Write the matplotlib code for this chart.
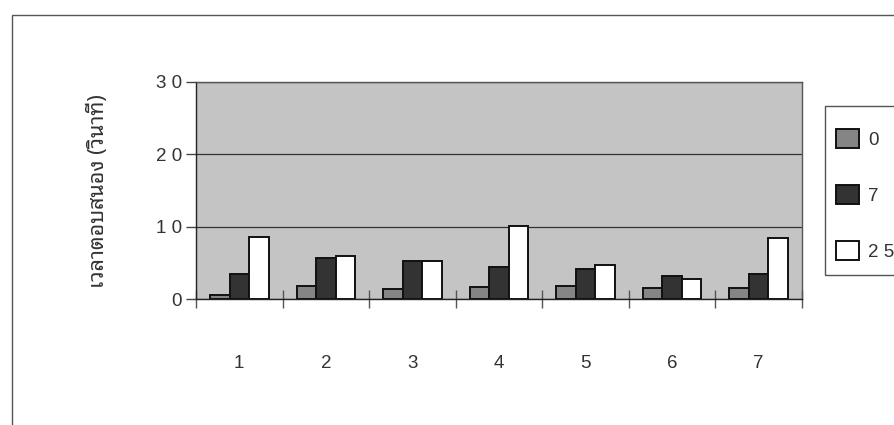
import matplotlib
matplotlib.use("Agg")
import numpy as np
import matplotlib.pyplot as plt
from matplotlib.patches import Rectangle

# response time per test case, one list per series
categories = ["1", "2", "3", "4", "5", "6", "7"]
series_names = ["0", "7", "2 5"]
s0 = [0.6, 1.8, 1.4, 1.7, 1.8, 1.5, 1.5]
s7 = [3.5, 5.6, 5.2, 4.4, 4.2, 3.2, 3.4]
s25 = [8.6, 6.0, 5.2, 10.1, 4.7, 2.8, 8.5]
y_ticks = [0, 10, 20, 30]
y_tick_labels = ["0", "1 0", "2 0", "3 0"]
y_label = "เวลาตอบสนอง (วินาที)"

plt.rcParams["font.family"] = ["Liberation Sans", "DejaVu Sans"]
plt.rcParams["font.size"] = 13.5
text_color = "#333333"
frame_color = "#555555"

fig = plt.figure(figsize=(8.95, 4.25), dpi=100)
ax = fig.add_axes([196 / 895, 1 - 299 / 425, 606 / 895, 217 / 425])

# outer chart frame, running off the right and bottom edges
fig.patches.append(Rectangle((12 / 895, -0.2), 1.2, 1.2 - 15 / 425,
                             transform=fig.transFigure, fill=False,
                             edgecolor=frame_color, linewidth=1.0))

ax.set_facecolor("#c4c4c4")
x = np.arange(len(categories))
w = 0.225
colors = ["#858585", "#333333", "#ffffff"]
bars = []
for i, (vals, c) in enumerate(zip([s0, s7, s25], colors)):
    b = ax.bar(x + (i - 1) * w, vals, w, color=c, edgecolor="#111111",
               linewidth=1.4, zorder=3, label=series_names[i])
    bars.append(b)

ax.set_xlim(-0.5, len(categories) - 0.5)
ax.set_ylim(0, 30)
ax.set_yticks(y_ticks)
ax.set_yticklabels(y_tick_labels, color=text_color)
ax.tick_params(axis="y", direction="out", length=7, width=1, pad=3,
               colors="#444444", labelcolor=text_color)
ax.yaxis.grid(True, color="#333333", linewidth=0.9, zorder=1)

# ticks at the category boundaries, labels at the centres
ax.set_xticks(np.arange(-0.5, len(categories)), minor=False)
ax.set_xticklabels([])
ax.tick_params(axis="x", which="major", direction="inout", length=13,
               width=1, colors=frame_color)
ax.set_xticks(x, minor=True)
ax.set_xticklabels(categories, minor=True, color=text_color)
ax.tick_params(axis="x", which="minor", length=0, pad=40,
               labelcolor=text_color)

for side in ["top", "right"]:
    ax.spines[side].set_color(frame_color)
    ax.spines[side].set_linestyle((0, (1, 1)))
    ax.spines[side].set_linewidth(1)
for side in ["left", "bottom"]:
    ax.spines[side].set_color("#222222")
    ax.spines[side].set_linewidth(1)

fig.text(98 / 895, 1 - 191 / 425, y_label, rotation=90, ha="center",
         va="center", fontsize=15.5, color=text_color,
         family=["Noto Sans Thai Looped", "Liberation Sans"])

# legend box drawn separately so it can run past the right edge
fig.patches.append(Rectangle((825 / 895, 1 - 275 / 425), 0.2, 169 / 425,
                             transform=fig.transFigure, fill=False,
                             edgecolor=frame_color, linewidth=1.0))
leg = fig.legend(handles=bars, labels=series_names, loc="upper left",
                 bbox_to_anchor=(836 / 895, 1 - 129 / 425), frameon=False,
                 borderpad=0, labelspacing=1.95, handlelength=1.25,
                 handleheight=1.15, handletextpad=0.45, borderaxespad=0)
for t in leg.get_texts():
    t.set_color(text_color)

fig.savefig("out.png", dpi=100)
